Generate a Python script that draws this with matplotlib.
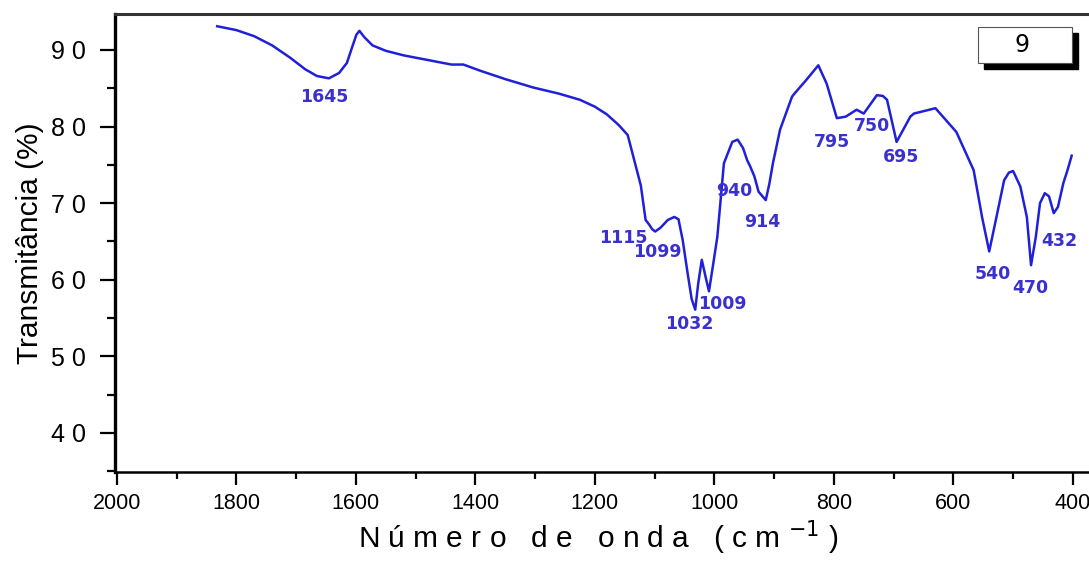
import matplotlib
matplotlib.use("Agg")
import matplotlib.pyplot as plt
from matplotlib.patches import Rectangle
from matplotlib.ticker import MultipleLocator

# FTIR spectrum, sample 9
wavenumber = [1832, 1800, 1770, 1740, 1710, 1685, 1665, 1645, 1628, 1615, 1606, 1599,
              1594, 1586, 1572, 1550, 1520, 1480, 1440, 1420, 1392, 1350, 1303, 1260,
              1225, 1200, 1180, 1160, 1145, 1134, 1123, 1115, 1109, 1104, 1099, 1090,
              1078, 1067, 1060, 1053, 1045, 1038, 1032, 1027, 1021, 1015, 1009, 1002,
              995, 984, 970, 961, 952, 945, 940, 933, 926, 914, 908, 902, 890, 870,
              866, 846, 826, 812, 795, 780, 762, 750, 728, 718, 711, 695, 672, 666,
              630, 595, 566, 552, 540, 530, 515, 507, 500, 488, 477, 470, 462, 455,
              447, 440, 432, 425, 416, 409, 402]
transmittance = [93.1, 92.6, 91.8, 90.6, 89.0, 87.5, 86.6, 86.3, 87.0, 88.3, 90.4, 92.0,
                 92.5, 91.7, 90.6, 89.9, 89.3, 88.7, 88.1, 88.1, 87.3, 86.2, 85.1, 84.3,
                 83.5, 82.6, 81.6, 80.2, 78.9, 75.6, 72.3, 67.8, 67.2, 66.6, 66.3, 66.8,
                 67.8, 68.2, 67.9, 65.2, 61.0, 57.5, 56.1, 59.5, 62.6, 60.5, 58.5, 62.0,
                 65.6, 75.2, 78.0, 78.3, 77.2, 75.6, 74.8, 73.5, 71.5, 70.4, 72.5, 75.2,
                 79.6, 83.9, 84.3, 86.1, 88.0, 85.6, 81.1, 81.3, 82.2, 81.7, 84.1, 84.0,
                 83.5, 78.0, 81.3, 81.7, 82.4, 79.3, 74.3, 68.2, 63.7, 67.4, 73.0, 74.0,
                 74.2, 72.2, 68.2, 61.9, 65.6, 70.0, 71.3, 70.9, 68.7, 69.5, 72.6, 74.3,
                 76.2]

# labelled bands and where their text sits relative to the band (pixels)
bands = [1645, 1115, 1099, 1032, 1009, 940, 914, 795, 750, 695, 540, 470, 432]
band_offsets = [(-5, -19), (-22, -18), (2, -20), (-6, -14), (13, -13), (-16, -25),
                (-3, -22), (-5, -24), (8, -12), (4, -15), (4, -23), (-1, -23), (6, -28)]

line_color = "#2020d8"
label_color = "#3a30d0"
sans = ["Liberation Sans", "DejaVu Sans"]

fig = plt.figure(figsize=(10.89, 5.67), dpi=100)
ax = fig.add_axes([115 / 1089, 95 / 567, 974 / 1089, 458 / 567])

ax.plot(wavenumber, transmittance, color=line_color, lw=1.8)

for wn, (dx, dy) in zip(bands, band_offsets):
    t = transmittance[wavenumber.index(wn)]
    ax.annotate(str(wn), xy=(wn, t), xytext=(dx, dy), textcoords="offset pixels",
                ha="center", va="center", fontsize=12.5, fontweight="bold",
                color=label_color, family="DejaVu Sans")

ax.set_xlim(2003, 373)
ax.set_ylim(34.9, 94.7)

ax.xaxis.set_minor_locator(MultipleLocator(100))
ax.yaxis.set_minor_locator(MultipleLocator(5))

xt = list(range(2000, 399, -200))
ax.set_xticks(xt)
ax.set_xticklabels([str(v) for v in xt], family=sans, fontsize=15.5)
yt = list(range(40, 91, 10))
ax.set_yticks(yt)
ax.set_yticklabels([" ".join(str(v)) for v in yt], family=sans, fontsize=18)

ax.tick_params(axis="x", which="major", direction="out", length=9, width=1.6, pad=6)
ax.tick_params(axis="x", which="minor", direction="out", length=5, width=1.6)
ax.tick_params(axis="y", which="major", direction="out", length=11, width=1.6, pad=10)
ax.tick_params(axis="y", which="minor", direction="out", length=6, width=1.6)

ax.spines["right"].set_visible(False)
ax.spines["left"].set_linewidth(2.4)
ax.spines["bottom"].set_linewidth(1.8)
ax.spines["top"].set_linewidth(2.2)
ax.spines["top"].set_color("#333333")

ax.set_ylabel("Transmitância (%)", family=sans, fontsize=21.5, labelpad=5)
fig.text(0.549, 0.018, "N ú m e r o   d e   o n d a   ( c m $^{- 1}$ )",
         family=sans, fontsize=21.5, ha="center", va="bottom")

# sample tag in the upper right corner
fig.patches.append(Rectangle((984 / 1089, 498 / 567), 94 / 1089, 36 / 567,
                             transform=fig.transFigure, facecolor="black",
                             edgecolor="black", zorder=5))
fig.patches.append(Rectangle((978 / 1089, 504 / 567), 94 / 1089, 36 / 567,
                             transform=fig.transFigure, facecolor="white",
                             edgecolor="#555555", lw=0.8, zorder=6))
fig.text(1022 / 1089, 522 / 567, "9", fontsize=17, ha="center", va="center", zorder=7)

fig.savefig("out.png", dpi=100)
